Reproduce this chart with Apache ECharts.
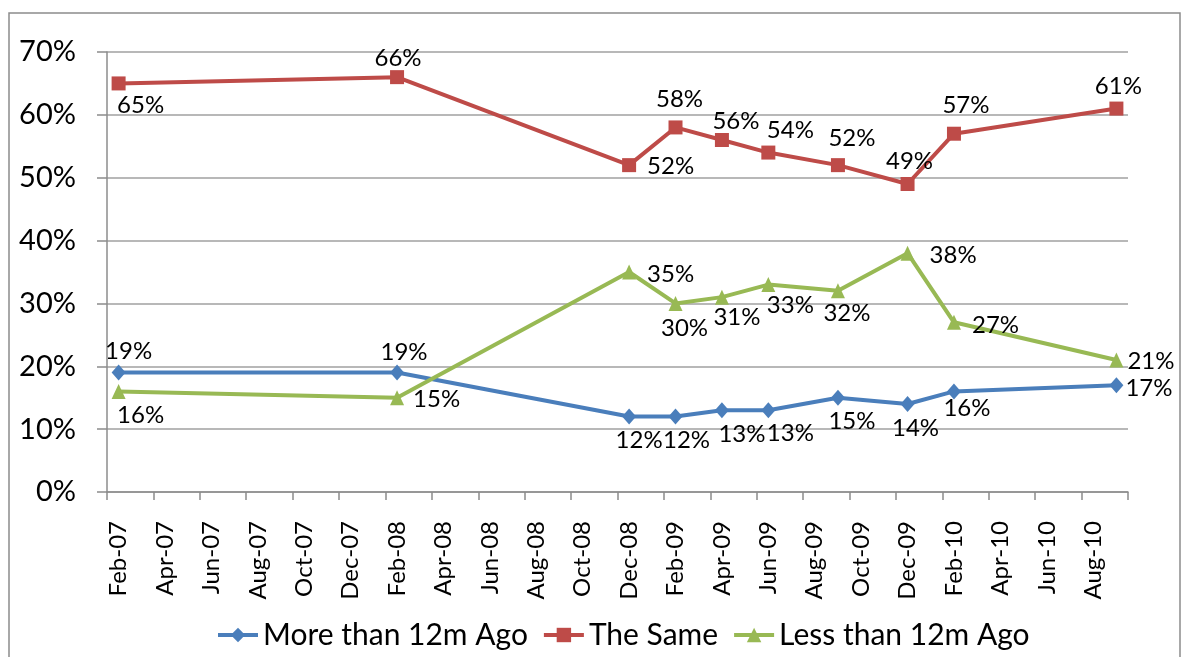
<!DOCTYPE html>
<html>
<head>
<meta charset="utf-8">
<script src="https://cdn.jsdelivr.net/npm/echarts@6/dist/echarts.min.js"></script>
<style>
html,body{margin:0;padding:0;background:#fff;}
#chart{width:1183px;height:657px;}
</style>
</head>
<body>
<div id="chart"></div>
<script>
// Category axis: every month from Feb-07 to Sep-10
const months = [
  'Feb-07','Mar-07','Apr-07','May-07','Jun-07','Jul-07','Aug-07','Sep-07','Oct-07','Nov-07','Dec-07',
  'Jan-08','Feb-08','Mar-08','Apr-08','May-08','Jun-08','Jul-08','Aug-08','Sep-08','Oct-08','Nov-08','Dec-08',
  'Jan-09','Feb-09','Mar-09','Apr-09','May-09','Jun-09','Jul-09','Aug-09','Sep-09','Oct-09','Nov-09','Dec-09',
  'Jan-10','Feb-10','Mar-10','Apr-10','May-10','Jun-10','Jul-10','Aug-10','Sep-10'
];
// Survey dates
const surveyMonths = ['Feb-07','Feb-08','Dec-08','Feb-09','Apr-09','Jun-09','Sep-09','Dec-09','Feb-10','Sep-10'];
// Series values (%)
const moreThan12m = [19, 19, 12, 12, 13, 13, 15, 14, 16, 17];
const theSame     = [65, 66, 52, 58, 56, 54, 52, 49, 57, 61];
const lessThan12m = [16, 15, 35, 30, 31, 33, 32, 38, 27, 21];
// Y axis ticks
const yMin = 0, yMax = 70, yStep = 10;

// Label placement (style only)
const blueLabels = [['top',10,4],['top',7,5],['bottom',10,-1],['bottom',11,-1],['bottom',20,-1],['bottom',22,-2],['bottom',14,-1],['bottom',8,-1],['bottom',13,-8],['right',-3,3]];
const redLabels = [['bottom',22,-2],['top',1,5],['right',6,1],['top',4,-4],['top',14,5],['top',22,2],['top',14,-3],['top',2,1],['top',12,-4],['top',2,2]];
const greenLabels = [['bottom',22,-1],['right',4,2],['right',6,2],['bottom',9,0],['bottom',15,-4],['bottom',22,-4],['bottom',9,-2],['right',10,2],['right',6,3],['right',-1,1]];

const FONT = 'Lato, "Liberation Sans", sans-serif';

function buildData(values, labels) {
  const out = months.map(() => null);
  surveyMonths.forEach((m, i) => {
    const idx = months.indexOf(m);
    const l = labels[i];
    out[idx] = { value: values[i], label: { position: l[0], offset: [l[1], l[2]] } };
  });
  return out;
}

function mkSeries(name, values, labels, color, symbol, size) {
  return {
    name: name,
    type: 'line',
    data: buildData(values, labels),
    connectNulls: true,
    symbol: symbol,
    symbolSize: size,
    showAllSymbol: true,
    lineStyle: { color: color, width: 4 },
    itemStyle: { color: color },
    label: {
      show: true,
      formatter: p => p.value + '%',
      color: '#000',
      fontFamily: FONT,
      fontSize: 24,
      distance: 5
    },
    emphasis: { disabled: true },
    animation: false
  };
}

const chart = echarts.init(document.getElementById('chart'), null, { renderer: 'canvas' });
chart.setOption({
  animation: false,
  backgroundColor: '#fff',
  graphic: [{
    type: 'rect',
    shape: { x: 9, y: 13, width: 1171, height: 660 },
    style: { fill: 'none', stroke: '#8c8c8c', lineWidth: 1.5 },
    silent: true
  }],
  grid: { left: 107, right: 55, top: 52, bottom: 165, containLabel: false },
  legend: {
    bottom: 2,
    left: 211,
    itemWidth: 40,
    itemHeight: 18,
    itemGap: 14,
    lineStyle: { width: 4 },
    textStyle: { fontFamily: FONT, fontSize: 30, color: '#000' },
    data: ['More than 12m Ago', 'The Same', 'Less than 12m Ago']
  },
  xAxis: {
    type: 'category',
    data: months,
    boundaryGap: true,
    axisLine: { show: true, lineStyle: { color: '#8c8c8c', width: 1.5 } },
    axisTick: { show: true, interval: 1, length: 8, alignWithLabel: false, lineStyle: { color: '#8c8c8c', width: 1.5 } },
    axisLabel: { interval: 1, rotate: 90, margin: 29, fontFamily: FONT, fontSize: 24, color: '#000' },
    splitLine: { show: false }
  },
  yAxis: {
    type: 'value',
    min: yMin,
    max: yMax,
    interval: yStep,
    axisLine: { show: true, lineStyle: { color: '#8c8c8c', width: 1.5 } },
    axisTick: { show: true, length: 10, lineStyle: { color: '#8c8c8c', width: 1.5 } },
    axisLabel: { formatter: '{value}%', margin: 31, fontFamily: FONT, fontSize: 29, color: '#000' },
    splitLine: { show: true, lineStyle: { color: '#a0a0a0', width: 1.5 } }
  },
  series: [
    mkSeries('More than 12m Ago', moreThan12m, blueLabels, '#4A7EBB', 'diamond', [14, 16]),
    mkSeries('The Same', theSame, redLabels, '#BE4B48', 'rect', 14),
    mkSeries('Less than 12m Ago', lessThan12m, greenLabels, '#98B954', 'triangle', [14, 15])
  ]
});
</script>
</body>
</html>
